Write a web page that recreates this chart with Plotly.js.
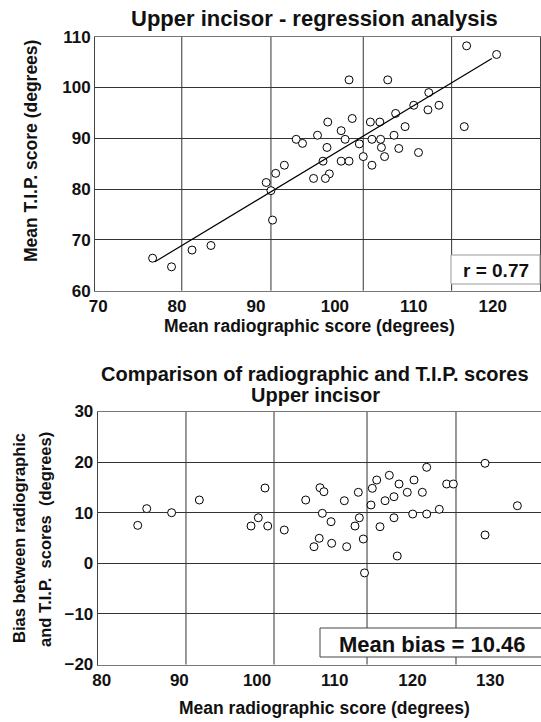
<!DOCTYPE html>
<html>
<head>
<meta charset="utf-8">
<script src="https://cdn.plot.ly/plotly-3.0.1.min.js"></script>
<style>html,body{margin:0;padding:0;background:#fff}#chart{width:541px;height:722px}</style>
</head>
<body>
<div id="chart"></div>
<script>
// ---- Data: upper chart (regression) ----
const topX = [116.7,120.5,101.8,106.7,111.9,110.0,111.8,113.2,107.7,102.2,99.1,104.5,105.7,116.4,108.9,100.8,97.8,107.5,101.3,104.7,105.8,103.1,95.1,95.9,99.0,105.9,108.1,110.6,103.6,106.3,98.5,100.8,101.8,104.7,99.3,97.3,98.8,93.6,92.5,91.3,91.9,92.1,84.3,81.9,76.9,79.3];
const topY = [108.2,106.5,101.5,101.5,99.0,96.5,95.6,96.5,94.9,93.9,93.2,93.2,93.2,92.3,92.3,91.5,90.6,90.6,89.8,89.8,89.8,88.9,89.8,89.0,88.2,88.2,88.0,87.2,86.4,86.4,85.5,85.5,85.5,84.7,83.0,82.1,82.1,84.7,83.1,81.3,79.7,73.9,68.9,68.0,66.4,64.7];
const regX = [77.2, 119.9];
const regY = [65.7, 105.7];
const topGridX = [80.6, 91.9, 103.6, 114.8];
const topXTicks = [70, 80, 90, 100, 110, 120];
const topYTicks = [60, 70, 80, 90, 100, 110];

// ---- Data: lower chart (bias) ----
const biasX = [101.02,92.57,106.26,85.8,89.0,100.16,84.64,99.22,101.37,103.5,129.34,121.83,117.02,115.4,120.2,118.27,124.4,125.26,108.1,108.6,114.83,113.03,119.33,121.27,117.62,116.47,111.23,114.66,133.5,108.4,113.16,120.03,121.83,123.45,117.62,109.52,112.6,115.82,129.34,108.0,109.6,113.67,107.33,111.53,118.04,113.83];
const biasY = [14.88,12.51,12.51,10.8,10.0,9.0,7.5,7.37,7.37,6.58,19.76,18.97,17.39,16.46,16.46,15.67,15.67,15.67,14.94,14.15,14.82,14.03,14.03,14.03,13.16,12.37,12.37,11.52,11.38,9.88,9.0,9.74,9.74,10.67,9.0,8.22,7.37,7.23,5.6,4.94,3.95,4.8,3.28,3.28,1.44,-1.9];
const botGridX = [90.85, 102.18, 114.15, 125.6];
const botXTicks = [80, 90, 100, 110, 120, 130];
const botYTicks = [-20, -10, 0, 10, 20, 30];

// ---- Layout helpers ----
const W = 541, H = 722;
const px = x => x / W;
const py = y => 1 - y / H;
const FONT = 'Liberation Sans, Arial, Helvetica, sans-serif';
const gridCol = '#333';
const frameCol = '#777';

const marker = {symbol: 'circle', size: 8, color: '#fff', line: {color: '#000', width: 1}};

const traces = [
  {x: topX, y: topY, xaxis: 'x', yaxis: 'y', type: 'scatter', mode: 'markers', marker: marker, hoverinfo: 'skip'},
  {x: regX, y: regY, xaxis: 'x', yaxis: 'y', type: 'scatter', mode: 'lines', line: {color: '#000', width: 1.2}, hoverinfo: 'skip'},
  {x: biasX, y: biasY, xaxis: 'x2', yaxis: 'y2', type: 'scatter', mode: 'markers', marker: marker, hoverinfo: 'skip'}
];

const shapes = [];
topGridX.forEach(g => shapes.push({type: 'line', xref: 'x', yref: 'y domain', x0: g, x1: g, y0: 0, y1: 1, layer: 'below', line: {color: gridCol, width: 1}}));
botGridX.forEach(g => shapes.push({type: 'line', xref: 'x2', yref: 'y2 domain', x0: g, x1: g, y0: 0, y1: 1, layer: 'below', line: {color: gridCol, width: 1}}));
// label boxes
shapes.push({type: 'rect', xref: 'paper', yref: 'paper', x0: px(451), x1: px(540), y0: py(284), y1: py(255), fillcolor: '#fff', line: {color: '#999', width: 1}, layer: 'above'});
shapes.push({type: 'rect', xref: 'paper', yref: 'paper', x0: px(320), x1: px(545), y0: py(657), y1: py(628), fillcolor: '#fff', line: {color: '#444', width: 1}, layer: 'above'});

const tickFont = {family: FONT, size: 17, color: '#111', weight: 'bold'};
function ann(text, x, y, size, angle) {
  return {text: '<b>' + text + '</b>', xref: 'paper', yref: 'paper', x: px(x), y: py(y), xanchor: 'center', yanchor: 'middle', showarrow: false, textangle: angle || 0, font: {family: FONT, size: size, color: '#111'}};
}

const annotations = [
  ann('Upper incisor - regression analysis', 314, 19, 22),
  ann('Mean radiographic score (degrees)', 309, 326, 17.5),
  ann('Mean T.I.P. score (degrees)', 31, 151, 17.5, -90),
  ann('r = 0.77', 496, 270, 19),
  ann('Comparison of radiographic and T.I.P. scores', 315, 374, 20),
  ann('Upper incisor', 315, 395, 20),
  ann('Bias between radiographic', 19, 538, 16.5, -90),
  ann('and T.I.P.\u00a0 scores\u00a0 (degrees)', 45, 540, 16.5, -90),
  ann('Mean radiographic score (degrees)', 324, 708, 17.5),
  ann('Mean bias = 10.46', 432, 644, 22)
];

const layout = {
  width: W, height: H, autosize: false,
  margin: {l: 0, r: 0, t: 0, b: 0, pad: 0},
  paper_bgcolor: '#fff', plot_bgcolor: '#fff',
  showlegend: false,
  font: {family: FONT},
  xaxis: {domain: [px(95), px(540)], range: [69.6, 126.0], tickvals: topXTicks, ticks: '', showgrid: false, zeroline: false,
          showline: true, linecolor: frameCol, linewidth: 1, mirror: true, tickfont: tickFont, anchor: 'y', fixedrange: true},
  yaxis: {domain: [py(290.7), py(36.7)], range: [60, 110], tickvals: topYTicks, ticks: '', showgrid: true, gridcolor: gridCol, gridwidth: 1, zeroline: false,
          showline: true, linecolor: '#444', linewidth: 1, mirror: true, tickfont: tickFont, anchor: 'x', fixedrange: true},
  xaxis2: {domain: [px(97.7), 1], range: [79.49, 136.54], tickvals: botXTicks, ticks: '', showgrid: false, zeroline: false,
          showline: true, linecolor: frameCol, linewidth: 1, mirror: true, tickfont: tickFont, anchor: 'y2', fixedrange: true},
  yaxis2: {domain: [py(664.5), py(411.5)], range: [-20, 30], tickvals: botYTicks, ticks: '', showgrid: true, gridcolor: gridCol, gridwidth: 1, zeroline: false,
          showline: true, linecolor: '#444', linewidth: 1, mirror: false, tickfont: tickFont, anchor: 'x2', fixedrange: true},
  shapes: shapes,
  annotations: annotations
};

Plotly.newPlot('chart', traces, layout, {staticPlot: true, displayModeBar: false});
</script>
</body>
</html>
